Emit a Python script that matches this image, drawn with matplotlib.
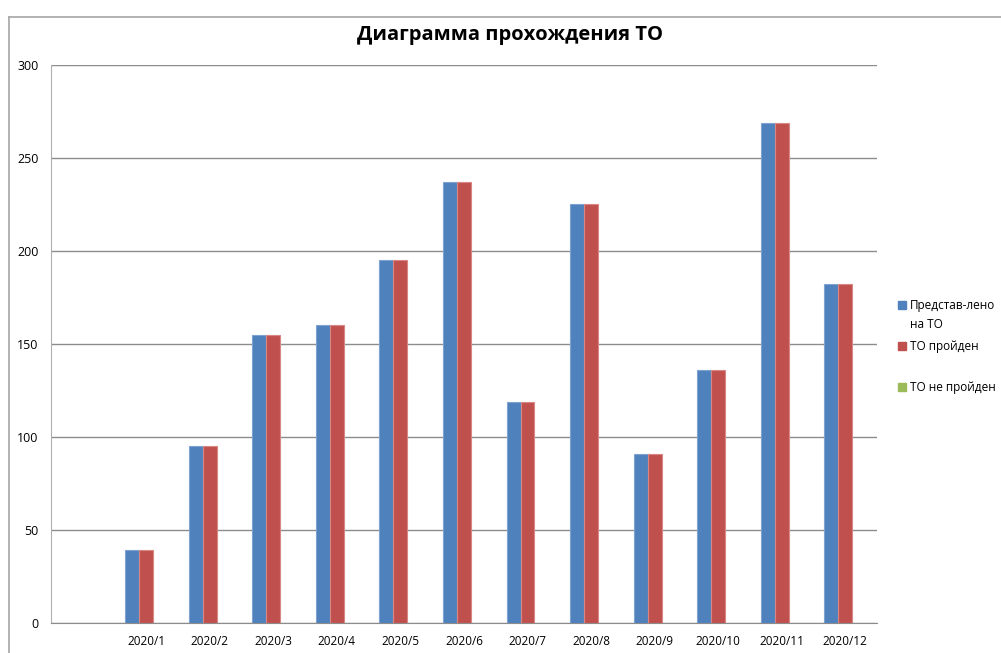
import matplotlib
matplotlib.use('Agg')
import matplotlib.pyplot as plt
from matplotlib.lines import Line2D
from matplotlib.patches import Rectangle
import numpy as np

plt.rcParams['font.family'] = ['Open Sans', 'DejaVu Sans']

categories = ['', '2020/1', '2020/2', '2020/3', '2020/4', '2020/5', '2020/6',
              '2020/7', '2020/8', '2020/9', '2020/10', '2020/11', '2020/12']
presented = [np.nan, 39, 95, 155, 160, 195, 237, 119, 225, 91, 136, 269, 182]
passed = [np.nan, 39, 95, 155, 160, 195, 237, 119, 225, 91, 136, 269, 182]
failed = [np.nan, 0, 0, 0, 0, 0, 0, 0, 0, 0, 0, 0, 0]
series_names = ['Представ-лено\nна ТО', 'ТО пройден', 'ТО не пройден']
colors = ['#4F81BD', '#C0504D', '#9BBB59']
edges = ['#7FA3D1', '#D98784', '#9BBB59']

fig = plt.figure(figsize=(10.01, 6.53), dpi=100)
ax = fig.add_axes([0.051, 0.046, 0.825, 0.8545])

x = np.arange(len(categories))
w = 0.22
ax.bar(x - w, presented, w, color=colors[0], edgecolor=edges[0], linewidth=0.8, zorder=3)
ax.bar(x, passed, w, color=colors[1], edgecolor=edges[1], linewidth=0.8, zorder=3)
ax.bar(x + w, failed, w, color=colors[2], linewidth=0, zorder=3)

ax.set_xlim(-0.5, len(categories) - 0.5)
ax.set_ylim(0, 300)
ax.set_yticks(np.arange(0, 301, 50))
ax.set_xticks(x)
ax.set_xticklabels(categories, fontsize=8.5)
ax.tick_params(axis='y', length=0, pad=9, labelsize=9)
ax.tick_params(axis='x', length=0, pad=9)
ax.yaxis.grid(True, color='#8c8c8c', linewidth=1)
ax.set_axisbelow(True)
for s in ['top', 'right']:
    ax.spines[s].set_visible(False)
ax.spines['left'].set_color('#b0b0b0')
ax.spines['bottom'].set_color('#8c8c8c')

fig.text(0.509, 0.946, 'Диаграмма прохождения ТО', ha='center', va='center',
         fontsize=14.5, fontweight='bold')

# legend
ly = [305, 346, 387]
for i, name in enumerate(series_names):
    fig.add_artist(Rectangle((898 / 1001, 1 - (ly[i] + 4) / 653), 8 / 1001, 8 / 653,
                             transform=fig.transFigure, color=colors[i]))
    fig.text(910 / 1001, 1 - (ly[i] - 6) / 653, name, ha='left', va='top',
             fontsize=8.5, linespacing=1.6)

# chart frame
fig.add_artist(Line2D([9 / 1001, 9 / 1001], [0, 1 - 17 / 653], color='#a6a6a6', lw=1.2,
                      transform=fig.transFigure))
fig.add_artist(Line2D([9 / 1001, 1], [1 - 17 / 653, 1 - 17 / 653], color='#a6a6a6', lw=1.2,
                      transform=fig.transFigure))

fig.savefig('out.png', dpi=100)
